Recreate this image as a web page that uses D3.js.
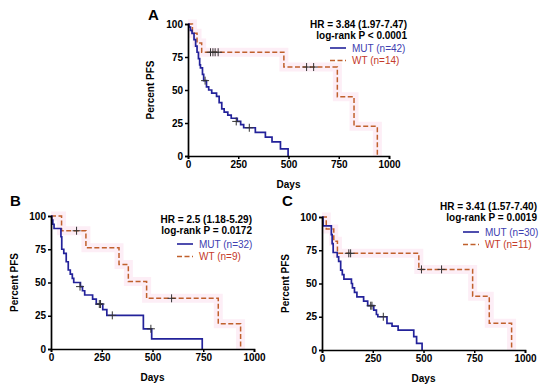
<!DOCTYPE html>
<html>
<head>
<meta charset="utf-8">
<script src="https://cdn.jsdelivr.net/npm/d3@7"></script>
<style>
body { margin: 0; background: #fff; }
text { font-family: "Liberation Sans", Arial, sans-serif; }
</style>
</head>
<body>
<script>
// tick labels
var xTicks = [0, 250, 500, 750, 1000];
var yTicks = [0, 25, 50, 75, 100];

// panel A : [day, percent] step points
var mutA = [[0,100],[5,97.6],[12,95.2],[20,92.9],[30,88.1],[38,83.3],[45,78.6],[52,73.8],[58,69],[62,66.7],[72,61.9],[78,57.1],[92,52.4],[103,50],[118,47.6],[142,45.2],[155,40.5],[168,35.7],[180,33.3],[198,31],[215,28.6],[245,26.2],[262,23.8],[277,21.4],[335,17.9],[385,14.3],[418,10.7],[460,5.4],[498,0]];
var wtA = [[0,100],[22,92.9],[45,85.7],[68,78.6],[477,67.4],[743,44.9],[826,22.5],[942,0]];
var mutCensA = [[85,57.1],[240,26.2],[305,21.4]];
var wtCensA = [[112,78.6],[124,78.6],[135,78.6],[150,78.6],[590,67.4],[625,67.4]];

// panel B
var mutB = [[0,100],[4,96.9],[9,93.8],[15,90.6],[49,84.4],[53,75],[63,71.9],[75,65.6],[85,59.4],[95,56.3],[105,53.1],[112,50],[145,46.9],[155,43.8],[166,40.6],[205,37.5],[223,33.8],[255,29.6],[275,25.3],[455,15.2],[496,7.6],[745,0]];
var wtB = [[0,100],[52,88.9],[172,76.2],[335,63.5],[381,50.8],[471,38.1],[824,19],[934,0]];
var mutCensB = [[143,46.9],[238,33.8],[244,33.8],[302,25.3],[492,15.2]];
var wtCensB = [[126,88.9],[594,38.1]];

// panel C
var mutC = [[0,100],[5,93.3],[46,86.7],[50,80],[55,73.3],[75,70],[82,66.7],[92,60],[100,56.7],[108,53.3],[145,50],[150,46.7],[160,43.3],[172,40],[205,36.7],[225,33.3],[255,30],[268,26.7],[275,25],[320,20],[345,18],[375,15],[452,10],[466,5],[493,0]];
var wtC = [[0,100],[21,90.9],[58,81.8],[76,72.7],[477,60.6],[742,40.4],[824,20.2],[934,0]];
var mutCensC = [[240,33.3],[246,33.3],[302,25]];
var wtCensC = [[132,72.7],[141,72.7],[490,60.6],[589,60.6]];

var panels = [
  {letter:"A", left:188, right:389, top:24, bottom:156, letterX:148, letterY:20, titleOff:34,
   hr:"HR = 3.84 (1.97-7.47)", p:"log-rank P < 0.0001", mutN:"MUT (n=42)", wtN:"WT (n=14)",
   textRight:407, hrY:28, legY:48, legX:330,
   mut:mutA, wt:wtA, mutCens:mutCensA, wtCens:wtCensA},
  {letter:"B", left:51, right:254, top:216, bottom:349, letterX:10, letterY:206, titleOff:33,
   hr:"HR = 2.5 (1.18-5.29)", p:"log-rank P = 0.0172", mutN:"MUT (n=32)", wtN:"WT (n=9)",
   textRight:252, hrY:223, legY:244, legX:177,
   mut:mutB, wt:wtB, mutCens:mutCensB, wtCens:wtCensB},
  {letter:"C", left:322, right:525, top:217, bottom:350, letterX:282, letterY:206, titleOff:33,
   hr:"HR = 3.41 (1.57-7.40)", p:"log-rank P = 0.0019", mutN:"MUT (n=30)", wtN:"WT (n=11)",
   textRight:537, hrY:210, legY:232, legX:463,
   mut:mutC, wt:wtC, mutCens:mutCensC, wtCens:wtCensC}
];

var mutColor = "#23229a",
    wtColor = "#c0602c",
    mutText = "#4040b0",
    wtText = "#c43a2a";

var svg = d3.select("body").append("svg")
    .attr("width", 550)
    .attr("height", 391);

panels.forEach(drawPanel);

function stepLine(x, y) {
  return d3.line()
    .x(function(d){ return x(d[0]); })
    .y(function(d){ return y(d[1]); })
    .curve(d3.curveStepAfter);
}

function drawPanel(cfg) {
  var x = d3.scaleLinear().domain([0, 1000]).range([cfg.left, cfg.right]);
  var y = d3.scaleLinear().domain([0, 100]).range([cfg.bottom, cfg.top]);
  var g = svg.append("g");
  var line = stepLine(x, y);

  //faint pink confidence band around WT
  g.append("path")
    .datum(cfg.wt)
    .attr("d", line)
    .attr("fill", "none")
    .attr("stroke", "#fdeef6")
    .attr("stroke-width", 9);

  //WT curve
  g.append("path")
    .datum(cfg.wt)
    .attr("d", line)
    .attr("fill", "none")
    .attr("stroke", wtColor)
    .attr("stroke-width", 1.5)
    .attr("stroke-dasharray", "5,2.5");

  //MUT curve
  g.append("path")
    .datum(cfg.mut)
    .attr("d", line)
    .attr("fill", "none")
    .attr("stroke", mutColor)
    .attr("stroke-width", 1.7);

  //censor marks
  var cens = cfg.mutCens.concat(cfg.wtCens);
  g.selectAll(".cens")
    .data(cens)
    .enter()
    .append("path")
    .attr("d", function(d){
      var cx = x(d[0]), cy = y(d[1]);
      return "M" + (cx - 4) + "," + cy + "H" + (cx + 4) + "M" + cx + "," + (cy - 4) + "V" + (cy + 4);
    })
    .attr("stroke", "#333")
    .attr("stroke-width", 1);

  //axes
  var yAxis = g.append("g")
    .attr("transform", "translate(" + cfg.left + ",0)")
    .call(d3.axisLeft(y).tickValues(yTicks).tickSize(3).tickPadding(2));
  var xAxis = g.append("g")
    .attr("transform", "translate(0," + cfg.bottom + ")")
    .call(d3.axisBottom(x).tickValues(xTicks).tickFormat(d3.format("d")).tickSize(3).tickPadding(2));
  [xAxis, yAxis].forEach(function(a){
    a.select(".domain").attr("stroke", "#000").attr("stroke-width", 1.7);
    a.selectAll(".tick line").attr("stroke", "#000").attr("stroke-width", 1.5);
    a.selectAll(".tick text")
      .attr("fill", "#000")
      .style("font-family", "'Liberation Sans', Arial, sans-serif")
      .style("font-size", "10px")
      .style("font-weight", "bold");
  });

  //axis titles
  g.append("text")
    .attr("transform", "translate(" + (cfg.left - cfg.titleOff) + "," + ((cfg.top + cfg.bottom) / 2) + ") rotate(-90)")
    .attr("text-anchor", "middle")
    .attr("font-size", "10px")
    .attr("font-weight", "bold")
    .text("Percent PFS");
  g.append("text")
    .attr("x", (cfg.left + cfg.right) / 2)
    .attr("y", cfg.bottom + 32)
    .attr("text-anchor", "middle")
    .attr("font-size", "10px")
    .attr("font-weight", "bold")
    .text("Days");

  //panel letter
  g.append("text")
    .attr("x", cfg.letterX)
    .attr("y", cfg.letterY)
    .attr("font-size", "15px")
    .attr("font-weight", "bold")
    .text(cfg.letter);

  //HR and p value
  g.append("text")
    .attr("x", cfg.textRight)
    .attr("y", cfg.hrY)
    .attr("text-anchor", "end")
    .attr("font-size", "10px")
    .attr("font-weight", "bold")
    .text(cfg.hr);
  g.append("text")
    .attr("x", cfg.textRight)
    .attr("y", cfg.hrY + 11)
    .attr("text-anchor", "end")
    .attr("font-size", "10px")
    .attr("font-weight", "bold")
    .text(cfg.p);

  //legend
  var leg = [
    {label: cfg.mutN, color: mutColor, tc: mutText, dash: null},
    {label: cfg.wtN, color: wtColor, tc: wtText, dash: "5,2.5"}
  ];
  leg.forEach(function(l, i){
    var ly = cfg.legY + i * 12.5;
    g.append("line")
      .attr("x1", cfg.legX)
      .attr("x2", cfg.legX + 16)
      .attr("y1", ly)
      .attr("y2", ly)
      .attr("stroke", l.color)
      .attr("stroke-width", 1.6)
      .attr("stroke-dasharray", l.dash);
    g.append("text")
      .attr("x", cfg.legX + 22)
      .attr("y", ly + 3.5)
      .attr("font-size", "10px")
      .attr("fill", l.tc)
      .text(l.label);
  });
}
</script>
</body>
</html>
